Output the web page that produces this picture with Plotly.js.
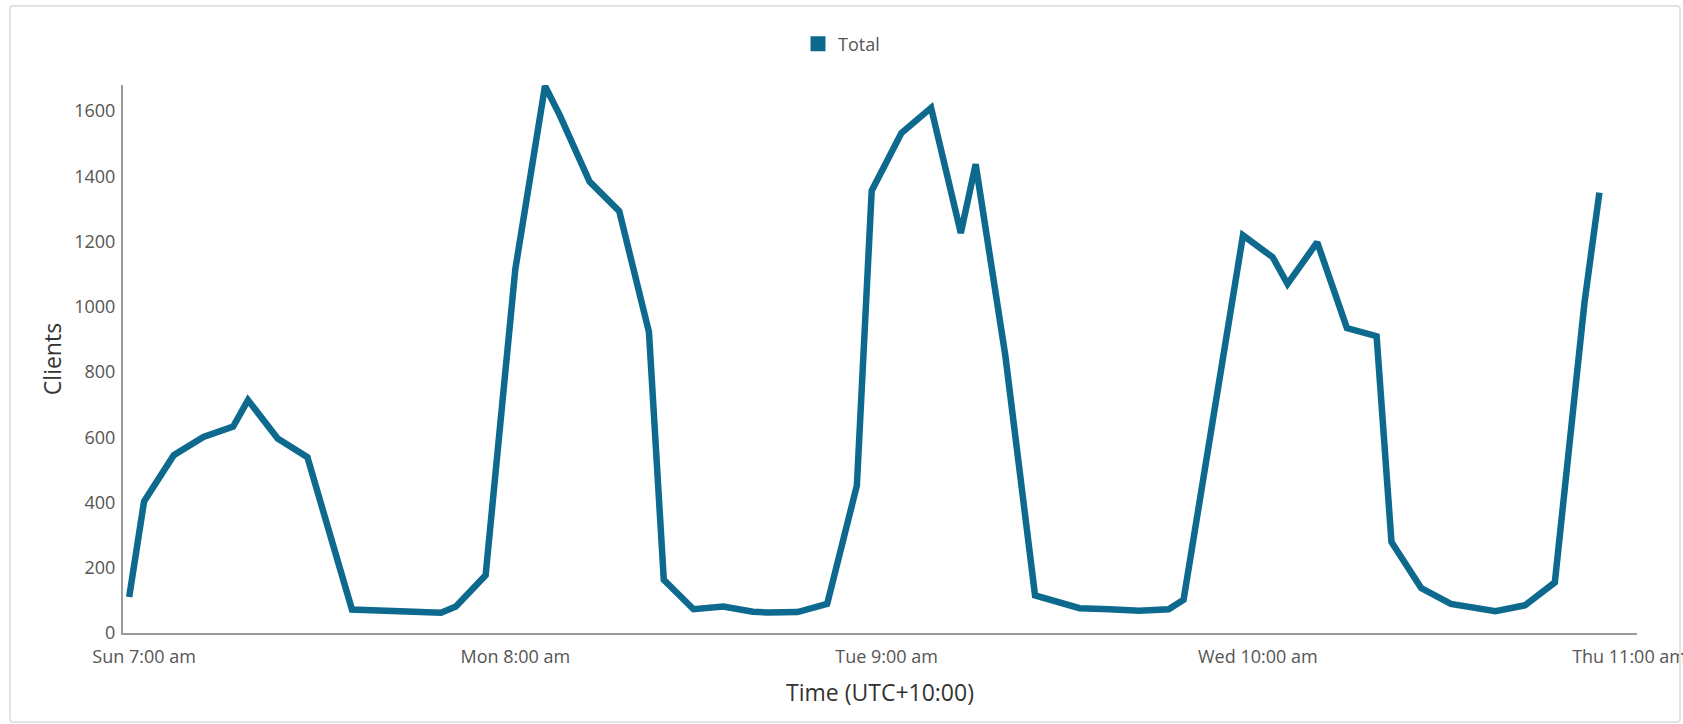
<!DOCTYPE html>
<html>
<head>
<meta charset="utf-8">
<script src="https://cdn.plot.ly/plotly-3.0.1.min.js"></script>
<style>
  html, body { margin: 0; padding: 0; background: #ffffff; }
  #wrap { position: relative; width: 1683px; height: 724px; overflow: hidden; }
  #chart { position: absolute; left: 0; top: 0; width: 1683px; height: 724px; }
  #frame { position: absolute; left: 9px; top: 5px; width: 1668px; height: 714px;
           border: 2px solid #e3e3e3; border-radius: 4px; pointer-events: none; }
</style>
</head>
<body>
<div id="wrap">
  <div id="chart"></div>
  <div id="frame"></div>
</div>
<script>
// Timestamps (UTC+10:00) and client counts
const times = [
  "2023-01-01 06:00", "2023-01-01 07:00", "2023-01-01 09:00", "2023-01-01 11:00",
  "2023-01-01 13:00", "2023-01-01 14:00", "2023-01-01 16:00", "2023-01-01 18:00",
  "2023-01-01 21:00",
  "2023-01-02 03:00", "2023-01-02 04:00", "2023-01-02 06:00", "2023-01-02 08:00",
  "2023-01-02 10:00", "2023-01-02 11:00", "2023-01-02 13:00", "2023-01-02 15:00",
  "2023-01-02 17:00", "2023-01-02 18:00", "2023-01-02 20:00", "2023-01-02 22:00",
  "2023-01-03 00:00", "2023-01-03 01:00", "2023-01-03 03:00", "2023-01-03 05:00",
  "2023-01-03 07:00", "2023-01-03 08:00", "2023-01-03 10:00", "2023-01-03 12:00",
  "2023-01-03 14:00", "2023-01-03 15:00", "2023-01-03 17:00", "2023-01-03 19:00",
  "2023-01-03 21:00", "2023-01-03 22:00",
  "2023-01-04 00:00", "2023-01-04 02:00", "2023-01-04 04:00", "2023-01-04 05:00",
  "2023-01-04 09:00", "2023-01-04 11:00", "2023-01-04 12:00", "2023-01-04 14:00",
  "2023-01-04 16:00", "2023-01-04 18:00", "2023-01-04 19:00", "2023-01-04 21:00",
  "2023-01-04 23:00",
  "2023-01-05 02:00", "2023-01-05 04:00", "2023-01-05 06:00", "2023-01-05 08:00",
  "2023-01-05 09:00"
];
const clients = [
  110, 403, 545, 601,
  633, 714, 596, 539,
  72,
  62, 81, 177, 1115,
  1677, 1587, 1384, 1293,
  923, 163, 73, 81,
  65, 63, 64, 89,
  452, 1356, 1533, 1610,
  1226, 1437, 850, 115,
  87, 76,
  73, 68, 73, 102,
  1219, 1152, 1070, 1198,
  935, 910, 279, 138,
  89,
  67, 85, 155, 1014,
  1350
];

const seriesName = "Total";
const tickVals = ["2023-01-01 07:00", "2023-01-02 08:00", "2023-01-03 09:00", "2023-01-04 10:00", "2023-01-05 11:00"];
const tickText = ["Sun 7:00 am", "Mon 8:00 am", "Tue 9:00 am", "Wed 10:00 am", "Thu 11:00 am"];
const yTicks = [0, 200, 400, 600, 800, 1000, 1200, 1400, 1600];

const lineColor = "#0d6a8e";
const fontFamily = "'Open Sans', 'Noto Sans', sans-serif";

const traces = [
  {
    x: times, y: clients, type: "scatter", mode: "lines",
    line: { color: lineColor, width: 6.5 },
    showlegend: false, hoverinfo: "x+y"
  },
  {
    x: [null], y: [null], type: "scatter", mode: "markers", name: seriesName,
    marker: { symbol: "square", size: 15, color: lineColor },
    showlegend: true
  }
];

const layout = {
  width: 1683, height: 724,
  margin: { l: 123, r: 46, t: 85, b: 91 },
  paper_bgcolor: "rgba(0,0,0,0)", plot_bgcolor: "rgba(0,0,0,0)",
  font: { family: fontFamily, color: "#555555", size: 18 },
  showlegend: true,
  legend: {
    orientation: "h", xref: "container", yref: "container",
    x: 0.5, xanchor: "center", y: 1 - 44 / 724, yanchor: "middle",
    font: { family: fontFamily, size: 18, color: "#555555" },
    itemwidth: 30
  },
  xaxis: {
    type: "date",
    range: ["2023-01-01 05:35", "2023-01-05 11:32"],
    tickvals: tickVals, ticktext: tickText,
    showgrid: false, zeroline: false,
    showline: true, linecolor: "#9a9a9a", linewidth: 2,
    ticks: "", ticklabelstandoff: 6, ticklabeloverflow: "allow",
    tickfont: { family: fontFamily, size: 18, color: "#555555" },
    title: { text: "Time (UTC+10:00)", font: { family: fontFamily, size: 23, color: "#333333" }, standoff: 18 }
  },
  yaxis: {
    range: [0, 1680],
    tickvals: yTicks,
    showgrid: false, zeroline: false,
    showline: true, linecolor: "#9a9a9a", linewidth: 2,
    ticks: "", ticklabelstandoff: 2,
    tickfont: { family: fontFamily, size: 18, color: "#555555" },
    title: { text: "Clients", font: { family: fontFamily, size: 23, color: "#333333" }, standoff: 6 }
  }
};

Plotly.newPlot("chart", traces, layout, { displayModeBar: false, staticPlot: true });
</script>
</body>
</html>
